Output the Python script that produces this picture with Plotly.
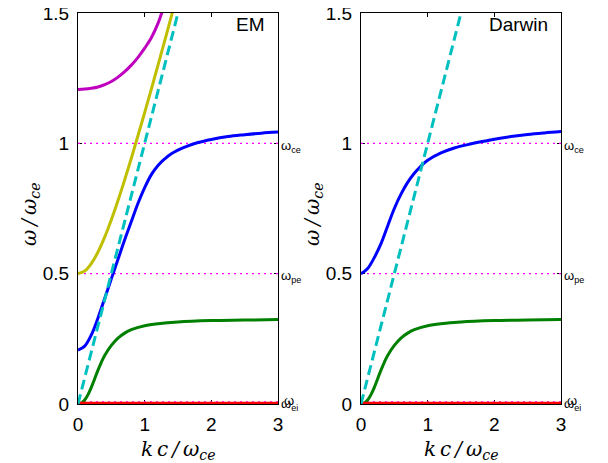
import plotly.graph_objects as go

# ---------------- data ----------------
# EM panel
k_mag = [0, 0.1, 0.2, 0.3, 0.4, 0.5, 0.6, 0.7, 0.8, 0.9, 1.0, 1.1, 1.2, 1.255, 1.3]
w_mag = [1.207, 1.208, 1.211, 1.216, 1.225, 1.237, 1.254, 1.275, 1.30, 1.33, 1.365, 1.405, 1.46, 1.5, 1.54]

k_yel = [0, 0.1, 0.2, 0.3, 0.4, 0.5, 0.6, 0.7, 0.8, 0.9, 1.0, 1.1, 1.2, 1.3, 1.4, 1.45]
w_yel = [0.5, 0.51, 0.539, 0.583, 0.64, 0.707, 0.781, 0.86, 0.943, 1.03, 1.118, 1.208, 1.3, 1.393, 1.487, 1.535]

k_blu_em = [0, 0.1, 0.2, 0.3, 0.4, 0.5, 0.6, 0.7, 0.8, 0.9, 1.0, 1.1, 1.2, 1.3, 1.4, 1.6, 1.8, 2.0, 2.25, 2.5, 2.75, 3.0]
w_blu_em = [0.207, 0.222, 0.265, 0.33, 0.405, 0.48, 0.555, 0.63, 0.70, 0.77, 0.83, 0.88, 0.915, 0.94, 0.96,
            0.985, 1.003, 1.015, 1.026, 1.033, 1.039, 1.043]

k_grn = [0, 0.05, 0.1, 0.15, 0.2, 0.25, 0.3, 0.35, 0.4, 0.5, 0.6, 0.7, 0.8, 1.0, 1.2, 1.5, 2.0, 2.5, 3.0]
w_grn = [0, 0.004, 0.015, 0.036, 0.064, 0.097, 0.13, 0.16, 0.186, 0.225, 0.253, 0.272, 0.285, 0.30, 0.308,
         0.315, 0.32, 0.322, 0.324]

# Darwin panel
k_blu_dw = [0, 0.1, 0.2, 0.3, 0.4, 0.5, 0.6, 0.7, 0.8, 0.9, 1.0, 1.2, 1.4, 1.6, 1.8, 2.0, 2.25, 2.5, 2.75, 3.0]
w_blu_dw = [0.5, 0.52, 0.562, 0.615, 0.683, 0.75, 0.805, 0.85, 0.885, 0.913, 0.935, 0.963, 0.982, 0.995,
            1.006, 1.016, 1.026, 1.034, 1.04, 1.045]

# both panels
k_red = [0, 3.0]
w_red = [0.003, 0.003]
k_light = [0, 1.55]
w_light = [0, 1.55]

# reference frequencies (dotted lines + labels)
ref_vals = [1.0, 0.5, 0.008]
ref_labels = ["ω<sub>ce</sub>", "ω<sub>pe</sub>", "ω<sub>ei</sub>"]
k_span = [0, 3]

panel_titles = ["EM", "Darwin"]

# ---------------- figure ----------------
# page body has an 8px margin, so the figure is 8px smaller and all positions are offset by 8px
W, H = 600, 455
MT, MB = 5, 59
TOP, BOT = MT, H - MB           # plot area top / bottom in figure pixels
PH = BOT - TOP
fig = go.Figure()

MAG = "#BF00BF"
YEL = "#BFBF00"
BLU = "#0000FF"
GRN = "#008000"
CYA = "#00BFBF"
RED = "#FF0000"
DOT = "#FF00FF"


def add_panel(xa, ya, with_em):
    for v in ref_vals:
        fig.add_trace(go.Scatter(x=k_span, y=[v, v], mode="lines", xaxis=xa, yaxis=ya,
                                 line=dict(color=DOT, width=1.3, dash="2px,4px"), showlegend=False, hoverinfo="skip"))
    if with_em:
        fig.add_trace(go.Scatter(x=k_mag, y=w_mag, mode="lines", xaxis=xa, yaxis=ya,
                                 line=dict(color=MAG, width=3, shape="spline"), showlegend=False))
        fig.add_trace(go.Scatter(x=k_yel, y=w_yel, mode="lines", xaxis=xa, yaxis=ya,
                                 line=dict(color=YEL, width=3, shape="spline"), showlegend=False))
        fig.add_trace(go.Scatter(x=k_blu_em, y=w_blu_em, mode="lines", xaxis=xa, yaxis=ya,
                                 line=dict(color=BLU, width=3, shape="spline"), showlegend=False))
    else:
        fig.add_trace(go.Scatter(x=k_blu_dw, y=w_blu_dw, mode="lines", xaxis=xa, yaxis=ya,
                                 line=dict(color=BLU, width=3, shape="spline"), showlegend=False))
    fig.add_trace(go.Scatter(x=k_grn, y=w_grn, mode="lines", xaxis=xa, yaxis=ya,
                             line=dict(color=GRN, width=3, shape="spline"), showlegend=False))
    fig.add_trace(go.Scatter(x=k_red, y=w_red, mode="lines", xaxis=xa, yaxis=ya,
                             line=dict(color=RED, width=3), showlegend=False))
    fig.add_trace(go.Scatter(x=k_light, y=w_light, mode="lines", xaxis=xa, yaxis=ya,
                             line=dict(color=CYA, width=3, dash="10px,5px"), showlegend=False))


add_panel("x", "y", True)
add_panel("x2", "y2", False)

doms = [[70 / W, 270 / W], [353 / W, 553 / W]]
tickfont = dict(family="Liberation Sans, Arial, sans-serif", size=19, color="black")
common_x = dict(range=[0, 3], tickvals=[0, 1, 2, 3], ticks="inside", ticklen=4, tickcolor="black",
                showline=True, linecolor="black", linewidth=1.2, mirror="allticks", showgrid=False,
                zeroline=False, tickfont=tickfont, ticklabelstandoff=3, layer="below traces",
                automargin=False, ticklabeloverflow="allow")
common_y = dict(range=[0, 1.5], tickvals=[0, 0.5, 1, 1.5], ticktext=["0", "0.5", "1", "1.5"],
                ticks="inside", ticklen=4, tickcolor="black",
                showline=True, linecolor="black", linewidth=1.2, mirror="allticks", showgrid=False,
                zeroline=False, tickfont=tickfont, ticklabelstandoff=4, domain=[0, 1], layer="below traces",
                automargin=False, ticklabeloverflow="allow")
right_y = dict(side="right", range=[0, 1.5], tickvals=ref_vals, ticks="outside", ticklen=3,
               tickcolor="black", showticklabels=False, showgrid=False, zeroline=False, showline=False,
               automargin=False)

fig.update_layout(
    template="none",
    width=W, height=H, margin=dict(l=0, r=0, t=MT, b=MB, autoexpand=False),
    paper_bgcolor="white", plot_bgcolor="white",
    xaxis=dict(domain=doms[0], anchor="y", **common_x),
    yaxis=dict(anchor="x", **common_y),
    xaxis2=dict(domain=doms[1], anchor="y2", **common_x),
    yaxis2=dict(anchor="x2", **common_y),
    yaxis3=dict(overlaying="y", anchor="x", **right_y),
    yaxis4=dict(overlaying="y2", anchor="x2", **right_y),
    showlegend=False,
)


def py(px):
    """figure pixel row -> paper y"""
    return (BOT - px) / PH


math_font = dict(family="DejaVu Serif, serif", size=20, color="black")
lab_font = dict(family="Liberation Sans, Arial, sans-serif", size=13, color="black")
S = "\u2009"
ytitle = f"<i>ω{S}/{S}ω</i><sub><i>ce</i></sub>"
xtitle = f"<i>k{S}c{S}/{S}ω</i><sub><i>ce</i></sub>"
ann = []
for i, (d, ya) in enumerate(zip(doms, ["y", "y2"])):
    xr = d[1]
    # right-side reference labels
    for v, t in zip(ref_vals, ref_labels):
        ann.append(dict(x=xr, y=v, xref="paper", yref=ya, text=t, showarrow=False, xanchor="left",
                        yanchor="middle", xshift=1, yshift=-3, font=lab_font))
    ann.append(dict(x=xr, y=ref_vals[2], xref="paper", yref=ya, text="ω", showarrow=False, xanchor="left",
                    yanchor="middle", xshift=4, yshift=1, font=lab_font))
    # panel name
    ann.append(dict(x=xr, y=py(17), xref="paper", yref="paper", text=panel_titles[i],
                    showarrow=False, xanchor="right", yanchor="middle", xshift=-11,
                    font=dict(family="Liberation Sans, Arial, sans-serif", size=19, color="black")))
    # axis titles
    ann.append(dict(x=(d[0] * W - 48) / W, y=py(207), xref="paper", yref="paper",
                    text=ytitle, textangle=-90, showarrow=False,
                    xanchor="center", yanchor="middle", font=math_font))
    ann.append(dict(x=(d[0] + d[1]) / 2, y=py(442), xref="paper", yref="paper",
                    text=xtitle, showarrow=False,
                    xanchor="center", yanchor="middle", font=math_font))
fig.update_layout(annotations=ann)

fig.write_html("out.html")
